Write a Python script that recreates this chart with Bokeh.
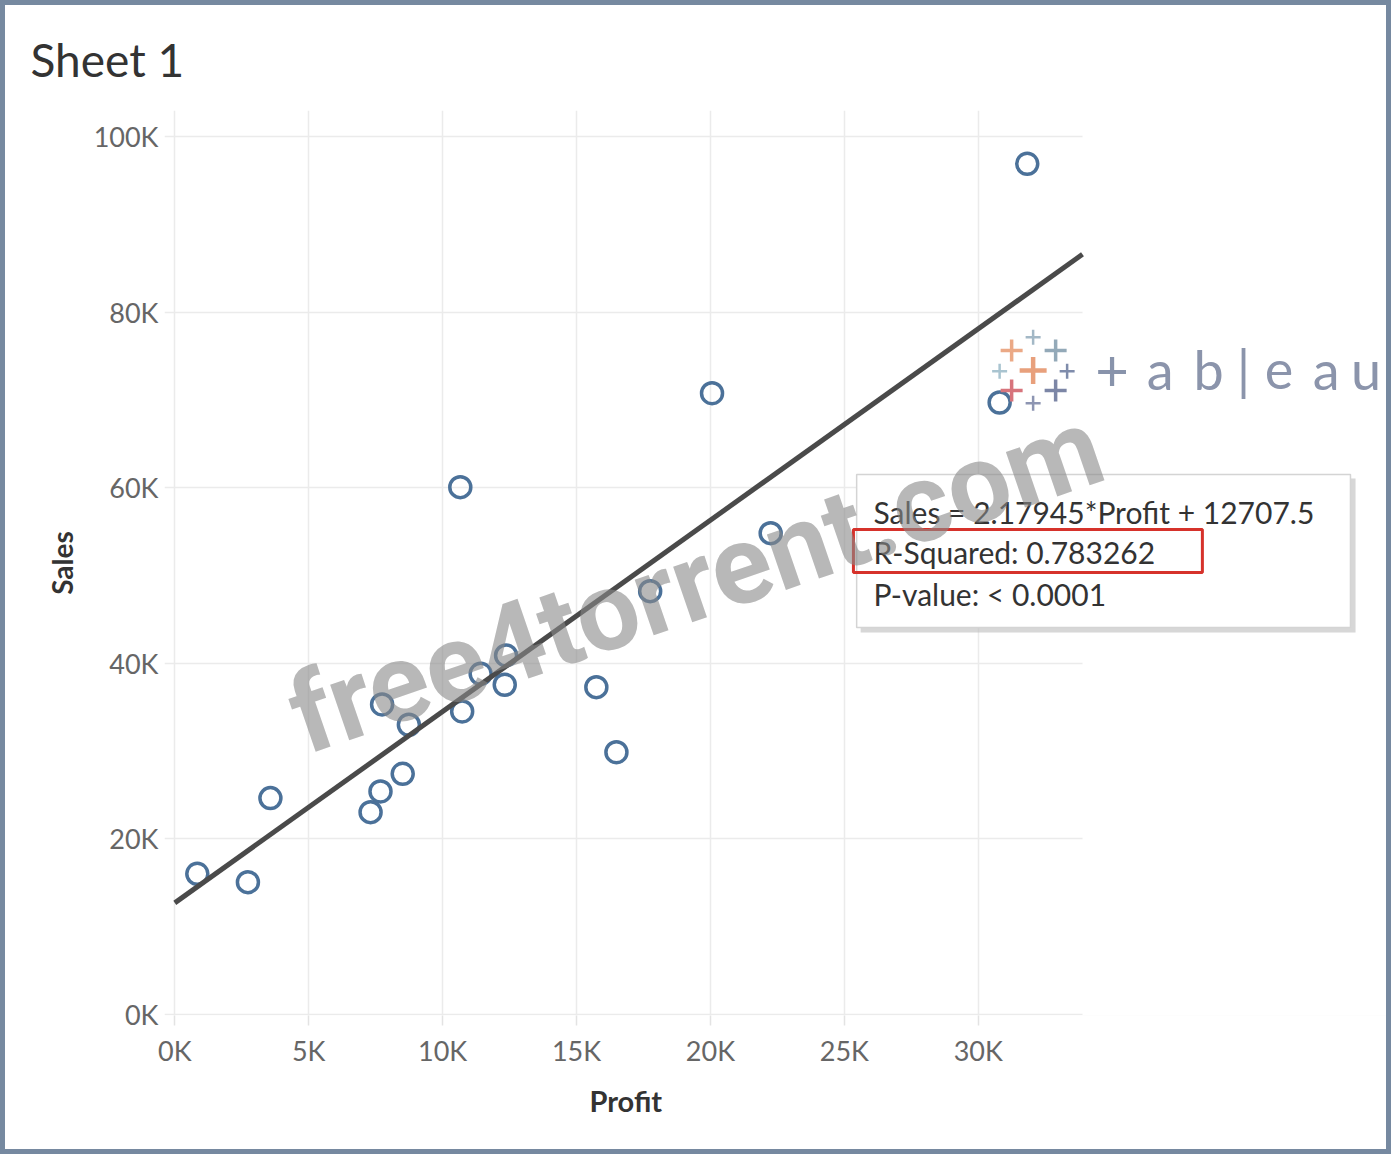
from bokeh.plotting import figure
from bokeh.models import BoxAnnotation, Label, FixedTicker, ColumnDataSource, Title
from bokeh.embed import file_html
from bokeh.resources import INLINE

# one hollow mark per item: profit vs sales (dollars)
profit = [840, 2730, 3570, 7310, 7680, 7740, 8510, 8740, 10660, 10730,
          11420, 12320, 12370, 15740, 16490, 17750, 20060, 22250, 30800, 31830]
sales = [16020, 15070, 24640, 23040, 25400, 35310, 27410, 33000, 60060, 34510,
         38800, 37550, 40890, 37280, 29870, 48210, 70760, 54820, 69700, 96890]

# linear trend line as reported in the tooltip
slope = 2.17945
intercept = 12707.5
r_squared = "0.783262"
p_value = "< 0.0001"

x_ticks = [0, 5000, 10000, 15000, 20000, 25000, 30000]
x_tick_labels = ["0K", "5K", "10K", "15K", "20K", "25K", "30K"]
y_ticks = [0, 20000, 40000, 60000, 80000, 100000]
y_tick_labels = ["0K", "20K", "40K", "60K", "80K", "100K"]

# the pane ends at x_axis_end; the frame runs on to the right edge so the
# tooltip and the logo (which sit past the pane) are not clipped
x_start, x_axis_end, x_end = -385, 33894, 45245
y_start, y_end = -120, 102960

FONT = "Lato"
TXT = "#333333"
W, H = 1381, 1144
BL, BT, BB = 159, 105, 134

p = figure(width=W, height=H, x_range=(x_start, x_end), y_range=(y_start, y_end),
           output_backend="svg", toolbar_location=None,
           min_border_left=BL, min_border_right=0, min_border_top=BT, min_border_bottom=BB,
           background_fill_color="white", border_fill_color="white", outline_line_color=None)
# sheet frame: a ring drawn outside the figure box
p.styles = {"margin": "5px", "box-shadow": "0 0 0 5px #7689a0"}

p.title.text = "Sheet 1"
p.title.text_font = FONT
p.title.text_font_size = "46px"
p.title.text_font_style = "normal"
p.title.text_color = TXT
p.title.align = "left"
p.title.offset = -134
p.title.standoff = 47

for ax in (p.xaxis[0], p.yaxis[0]):
    ax.axis_line_color = None
    ax.minor_tick_line_color = None
    ax.major_label_text_font = FONT
    ax.major_label_text_font_size = "27px"
    ax.major_label_text_color = "#666666"
    ax.axis_label_text_font = FONT
    ax.axis_label_text_font_size = "28px"
    ax.axis_label_text_font_style = "bold"
    ax.axis_label_text_color = TXT

p.xaxis.ticker = FixedTicker(ticks=x_ticks)
p.xaxis.major_label_overrides = dict(zip(x_ticks, x_tick_labels))
p.xaxis.major_tick_in = 0
p.xaxis.major_tick_out = 10
p.xaxis.major_tick_line_color = "#e3e3e3"
p.xaxis.major_tick_line_width = 1.5
p.xaxis.major_label_standoff = 8

p.yaxis.ticker = FixedTicker(ticks=y_ticks)
p.yaxis.major_label_overrides = dict(zip(y_ticks, y_tick_labels))
p.yaxis.major_tick_in = 0
p.yaxis.major_tick_out = 0
p.yaxis.major_tick_line_color = None
p.yaxis.major_label_standoff = 6
p.yaxis.axis_label = "Sales"
p.yaxis.axis_label_standoff = 12

# x axis title, centred under the pane rather than under the wider frame
p.add_layout(Title(text="Profit", align="left", offset=425, standoff=27,
                   vertical_align="top",
                   text_font=FONT, text_font_size="29px", text_font_style="bold",
                   text_color=TXT), "below")

p.xgrid.ticker = FixedTicker(ticks=x_ticks)
p.ygrid.ticker = FixedTicker(ticks=y_ticks)
p.grid.grid_line_color = "#ebebeb"
p.grid.grid_line_width = 1.5
# blank out the grid past the pane
p.add_layout(BoxAnnotation(left=x_axis_end, fill_color="white", fill_alpha=1.0,
                           line_alpha=0, level="underlay"))

# marks, then the trend line drawn over them
p.scatter(profit, sales, marker="circle", size=21, fill_color=None,
          line_color="#4b7199", line_width=3.5)
trend_x = [0, x_axis_end]
trend_y = [intercept + slope * v for v in trend_x]
p.line(trend_x, trend_y, line_color="#4a4a4a", line_width=5)

# tableau logo watermark
kx = (x_end - x_start) / float(W - BL)
ky = (y_end - y_start) / float(H - BT - BB)
logo_x, logo_y = 32050, 73350
crosses = dict(
    dx=[0, -21.5, 0, 22.5, -33.5, 34, -21.5, 0, 22.5],
    dy=[0, -20, -33.3, -20, 0.7, 0.7, 20, 32.7, 20],
    size=[27, 22, 15, 22, 15, 15, 22, 15, 22],
    width=[4.5, 3.5, 2.5, 3.5, 2.5, 2.5, 3.5, 2.5, 3.5],
    color=["#e8a07c", "#eba986", "#a3b8c6", "#93a9b8", "#a9c4d0",
           "#7f8cab", "#d7747c", "#8d95b2", "#7c86a6"],
)
crosses["x"] = [logo_x + d * kx for d in crosses["dx"]]
crosses["y"] = [logo_y - d * ky for d in crosses["dy"]]
p.scatter("x", "y", marker="cross", size="size", line_width="width", line_color="color",
          source=ColumnDataSource(crosses))
logo_letters = ["+", "a", "b", "|", "e", "a", "u"]
logo_dx = [79, 127, 175.5, 210.5, 246, 293, 333]
for ch, d in zip(logo_letters, logo_dx):
    p.add_layout(Label(x=logo_x + d * kx, y=logo_y + (0 if ch == "+" else ky), text=ch,
                       text_align="center", text_baseline="middle", text_font=FONT,
                       text_font_size="58px" if ch == "+" else "54px",
                       text_color="#8893ab" if ch == "+" else "#8b94ab"))

# trend line tooltip
p.add_layout(BoxAnnotation(left=25610, right=44090, top=61040, bottom=43510,
                           fill_color="#bdbdbd", fill_alpha=0.6, line_alpha=0))
p.add_layout(BoxAnnotation(left=25460, right=43900, top=61500, bottom=44080,
                           fill_color="white", fill_alpha=1.0,
                           line_color="#d4d4d4", line_alpha=1.0, line_width=1.5))
tip_lines = ["Sales = %s*Profit + %s" % (slope, intercept),
             "R-Squared: %s" % r_squared,
             "P-value: %s" % p_value]
tip_y = [57172, 52616, 47946]
for t, yy in zip(tip_lines, tip_y):
    p.add_layout(Label(x=26090, y=yy, text=t, text_font=FONT, text_font_size="30px",
                       text_color=TXT, text_baseline="middle"))
p.add_layout(BoxAnnotation(left=25340, right=38370, top=55240, bottom=50340,
                           fill_alpha=0, line_color="#d6322b", line_alpha=1.0, line_width=3))

# site watermark, over everything
p.add_layout(Label(x=19450, y=49400, text="free4torrent.com", angle=19, angle_units="deg",
                   text_align="center", text_baseline="middle",
                   text_font="Roboto", text_font_style="bold",
                   text_font_size="111px", text_color="#888888", text_alpha=0.6))

open("out.html", "w").write(file_html(p, INLINE))
